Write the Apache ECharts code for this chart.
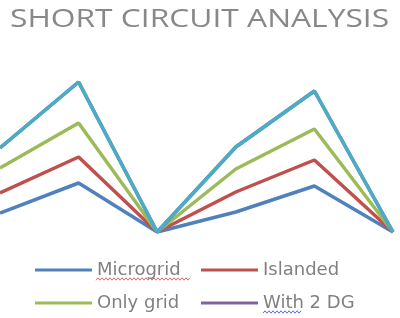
<!DOCTYPE html>
<html><head><meta charset="utf-8">
<script src="https://cdn.jsdelivr.net/npm/echarts@6/dist/echarts.min.js"></script>
<style>html,body{margin:0;padding:0;background:#fff}#c{width:400px;height:318px}</style>
</head><body><div id="c"></div>
<script>
const categories = ['1', '2', '3', '4', '5', '6'];
const microgrid = [19, 49, 0, 20, 46, 0];
const islanded = [39, 75, 0, 40, 72, 0];
const onlyGrid = [64, 109, 0, 63, 103, 0];
const with2DG = [84, 150, 0, 85, 141, 0];
const series5 = [84, 150, 0, 85, 141, 0];
const seriesNames = ['Microgrid', 'Islanded', 'Only grid', 'With 2 DG', 'Series5'];
const colors = ['#4F81BD', '#C0504D', '#9BBB59', '#8064A2', '#4BACC6'];
const titleText = 'SHORT CIRCUIT ANALYSIS';

function squiggle(x0, x1, y, color) {
  const pts = [];
  let k = 0;
  for (let x = x0; x <= x1; x += 2) { pts.push([x, y + (k % 2 ? -1.2 : 1.2)]); k++; }
  return {type: 'polyline', silent: true, shape: {points: pts}, style: {stroke: color, lineWidth: 1, fill: null, opacity: 0.8}};
}

const chart = echarts.init(document.getElementById('c'), null, {renderer: 'canvas'});
const dataSets = [microgrid, islanded, onlyGrid, with2DG, series5];
const legendText = {color: '#808080', fontSize: 18, fontFamily: 'DejaVu Sans'};
chart.setOption({
  animation: false,
  graphic: [
    {type: 'text', left: 10, top: 7, scaleX: 1.27, scaleY: 1, originX: 0,
     style: {text: titleText, fill: '#888888', font: 'normal 25px "Open Sans"'}},
    squiggle(96, 190, 279, '#e04040'),
    squiggle(263, 302, 312, '#4040e0')
  ],
  color: colors,
  legend: [
    {data: ['Microgrid', 'Only grid'], orient: 'vertical', left: 30, top: 256, itemWidth: 57, itemHeight: 3, itemGap: 15, icon: 'rect', textStyle: legendText},
    {data: ['Islanded', 'With 2 DG'], orient: 'vertical', left: 196, top: 256, itemWidth: 57, itemHeight: 3, itemGap: 15, icon: 'rect', textStyle: legendText}
  ],
  grid: {left: -1, right: 7, top: 82, bottom: 86, containLabel: false},
  xAxis: {type: 'category', data: categories, boundaryGap: false, show: false},
  yAxis: {type: 'value', min: 0, max: 150, show: false, splitLine: {show: false}},
  series: dataSets.map((d, i) => ({
    name: seriesNames[i], type: 'line', data: d, showSymbol: false, symbol: 'none',
    lineStyle: {width: 3.5, color: colors[i]}, z: 2 + i
  }))
});
</script></body></html>
